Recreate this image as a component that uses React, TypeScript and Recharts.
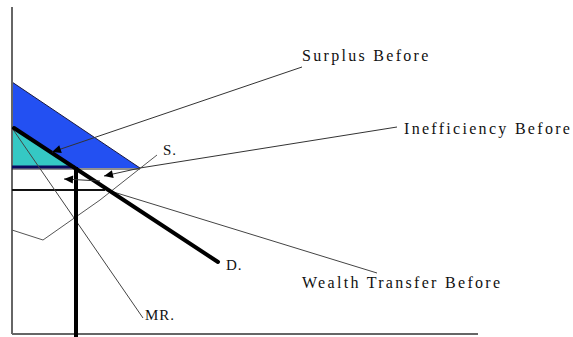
import { ComposedChart, Area, Line, XAxis, YAxis, ReferenceDot } from "recharts";

// quantity (q) and price (p), origin at the axis corner
const surplusArea = [
  { q: 0, p: 252 },
  { q: 128, p: 166 },
];
const inefficiencyArea = [
  { q: 0, p: 205 },
  { q: 61, p: 167 },
];
const demand = [
  { q: 2, p: 206 },
  { q: 206, p: 72 },
];
const marginalRevenue = [
  { q: 0, p: 206 },
  { q: 131, p: 16 },
];
const supply = [
  { q: 0, p: 104 },
  { q: 31, p: 94 },
  { q: 88, p: 134 },
  { q: 145, p: 179 },
];
const monopolyPrice = [
  { q: 0, p: 167 },
  { q: 63, p: 167 },
];
const surplusBase = [
  { q: 0, p: 165 },
  { q: 128, p: 165 },
];
const costLine = [
  { q: 0, p: 144 },
  { q: 93, p: 144 },
];
const monopolyQty = [
  { q: 64, p: 167 },
  { q: 64, p: -3 },
];
const yAxisLine = [
  { q: 0, p: 0 },
  { q: 0, p: 327 },
];
const xAxisLine = [
  { q: 0, p: 0 },
  { q: 466, p: 0 },
];
const surplusLeader = [
  { q: 290, p: 267 },
  { q: 40, p: 182 },
];
const inefficiencyLeader = [
  { q: 385, p: 207 },
  { q: 128, p: 166 },
  { q: 92, p: 158 },
];
const inefficiencyArrow = [
  { q: 88, p: 153 },
  { q: 52, p: 155 },
];
const wealthLeader = [
  { q: 365, p: 61 },
  { q: 95, p: 144 },
];

const labels = [
  { text: "Surplus Before", q: 290, p: 273, big: true },
  { text: "Inefficiency Before", q: 392, p: 200, big: true },
  { text: "Wealth Transfer Before", q: 290, p: 46, big: true },
  { text: "S.", q: 151, p: 179, big: false },
  { text: "D.", q: 214, p: 64, big: false },
  { text: "MR.", q: 133, p: 14, big: false },
];

type Pt = { q: number; p: number };

const arrowDot = (pts: Pt[]) => (props: any) => {
  const { cx, cy, index } = props;
  if (index !== pts.length - 1) return <g key={index} />;
  const a = pts[index - 1];
  const b = pts[index];
  const ang = (Math.atan2(-(b.p - a.p), b.q - a.q) * 180) / Math.PI;
  return (
    <polygon
      key={index}
      points="0,0 -9,-4 -9,4"
      transform={`translate(${cx},${cy}) rotate(${ang})`}
      fill="#000"
    />
  );
};

const thin = (data: Pt[], key: string, color = "#333", w = 1) => (
  <Line
    key={key}
    data={data}
    dataKey="p"
    type="linear"
    stroke={color}
    strokeWidth={w}
    dot={false}
    activeDot={false}
    isAnimationActive={false}
  />
);

export default function App() {
  return (
    <div style={{ position: "absolute", left: 0, top: 0, background: "#fff" }}>
      <ComposedChart
        width={573}
        height={337}
        margin={{ top: 0, right: 0, bottom: 0, left: 0 }}
      >
        <XAxis
          dataKey="q"
          type="number"
          domain={[-12, 561]}
          allowDataOverflow
          hide
        />
        <YAxis type="number" domain={[-3, 334]} allowDataOverflow hide />
        <Area
          data={surplusArea}
          dataKey="p"
          type="linear"
          baseValue={166}
          fill="#2350f2"
          fillOpacity={1}
          stroke="#1a1a40"
          strokeWidth={1}
          dot={false}
          activeDot={false}
          isAnimationActive={false}
        />
        <Area
          data={inefficiencyArea}
          dataKey="p"
          type="linear"
          baseValue={167}
          fill="#35c8c4"
          fillOpacity={1}
          stroke="none"
          dot={false}
          activeDot={false}
          isAnimationActive={false}
        />
        {thin(yAxisLine, "yaxis", "#666", 2)}
        {thin(xAxisLine, "xaxis", "#666", 2)}
        {thin(surplusBase, "base", "#222", 1)}
        {thin(monopolyPrice, "pm", "#0a0a60", 3)}
        {thin(costLine, "mc", "#111", 2)}
        {thin(supply, "supply", "#555", 1)}
        {thin(marginalRevenue, "mr", "#444", 1)}
        {thin(wealthLeader, "wealth", "#444", 1)}
        {thin(monopolyQty, "qm", "#000", 4)}
        <Line
          data={demand}
          dataKey="p"
          type="linear"
          stroke="#000"
          strokeWidth={4}
          strokeLinecap="round"
          dot={false}
          activeDot={false}
          isAnimationActive={false}
        />
        {[surplusLeader, inefficiencyLeader, inefficiencyArrow].map((pts, i) => (
          <Line
            key={`lead${i}`}
            data={pts}
            dataKey="p"
            type="linear"
            stroke="#333"
            strokeWidth={1}
            dot={arrowDot(pts)}
            activeDot={false}
            isAnimationActive={false}
          />
        ))}
        {labels.map((l) => (
          <ReferenceDot
            key={l.text}
            x={l.q}
            y={l.p}
            r={0}
            shape={(props: any) => (
              <text
                x={props.cx}
                y={props.cy}
                fontFamily="'Liberation Serif', 'Times New Roman', serif"
                fontSize={l.big ? 16 : 15}
                letterSpacing={l.big ? 2.3 : 1}
                fill="#111"
              >
                {l.text}
              </text>
            )}
          />
        ))}
      </ComposedChart>
    </div>
  );
}
